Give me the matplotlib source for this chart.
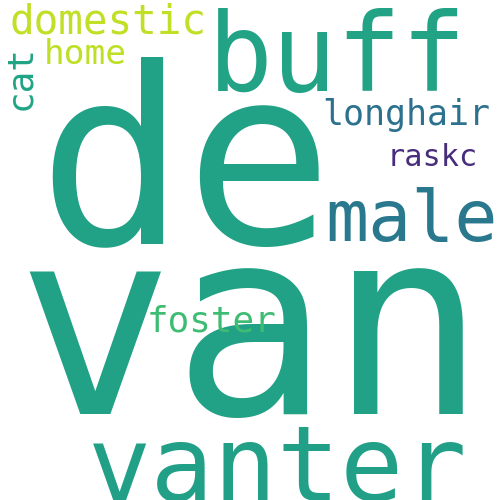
import matplotlib
matplotlib.use("Agg")
import matplotlib.pyplot as plt
import numpy as np
from matplotlib.font_manager import FontProperties

# word cloud content
words = ["de", "van", "vanter", "buff", "male", "domestic", "longhair",
         "home", "raskc", "foster", "cat"]
colors = ["#21a185", "#21a185", "#21a087", "#22a386", "#2a788e", "#c0df25",
          "#2c718e", "#bddf26", "#472d7b", "#3fbc73", "#20a386"]
rotated = [False, False, False, False, False, False, False, False, False, False, True]

# layout (pixels): ink start along reading direction, baseline,
# ink length along reading direction, ink height above baseline
ink_start = [37, 15, 93, 217, 328, 7, 328, 45, 383, 152, 107]
baseline = [251, 422, 501, 93, 241, 34, 125, 64, 166, 331, 30]
ink_len = [295, 463, 370, 241, 167, 201, 159, 80, 100, 120, 57]
ink_h = [209, 151, 78, 81, 54, 32, 27, 26, 19, 28, 25]
# visual size correction and baseline nudge for the two largest words
size_corr = [0.9, 0.95, 0.98, 1.0, 1.0, 0.97, 1.0, 1.0, 1.0, 1.0, 1.0]
base_nudge = [-8, -8, 0, -2, 0, 0, 0, 0, 0, 0, 0]

fp = FontProperties(family="DejaVu Sans Mono")
DPI = 100


def measure(word, size_pt):
    """Render a word and return ink (left offset, width, height above baseline) in px."""
    W, Hc, ax0, by = 1200, 800, 100, 550
    f = plt.figure(figsize=(W / DPI, Hc / DPI), dpi=DPI, facecolor="white")
    f.text(ax0 / W, 1 - by / Hc, word, fontproperties=fp, fontsize=size_pt,
           ha="left", va="baseline", color="black")
    f.canvas.draw()
    img = np.asarray(f.canvas.buffer_rgba())[:, :, 0]
    plt.close(f)
    ys, xs = np.nonzero(img < 128)
    return xs.min() - ax0, xs.max() - xs.min() + 1, by - ys.min()


fig = plt.figure(figsize=(5, 5), dpi=DPI)
ax = fig.add_axes([0, 0, 1, 1])
ax.set_xlim(0, 500)
ax.set_ylim(500, 0)
ax.axis("off")
fig.patch.set_facecolor("white")

for w, c, rot, s, b, L, H, sc, dn in zip(words, colors, rotated, ink_start,
                                         baseline, ink_len, ink_h,
                                         size_corr, base_nudge):
    fs_pt = 40.0
    for _ in range(3):
        x0, iw, ih = measure(w, fs_pt)
        fs_pt *= np.sqrt((L / iw) * (H / ih))
    x0, iw, ih = measure(w, fs_pt)
    fs_pt *= sc
    off = (x0 + iw / 2) * sc
    if not rot:
        ax.text(s + L / 2 - off, b + dn, w, fontproperties=fp, fontsize=fs_pt,
                color=c, ha="left", va="baseline")
    else:
        ax.text(b + dn, s - L / 2 + off, w, fontproperties=fp, fontsize=fs_pt,
                color=c, ha="left", va="baseline", rotation=90,
                rotation_mode="anchor")

fig.savefig("out.png", dpi=DPI, facecolor="white")
